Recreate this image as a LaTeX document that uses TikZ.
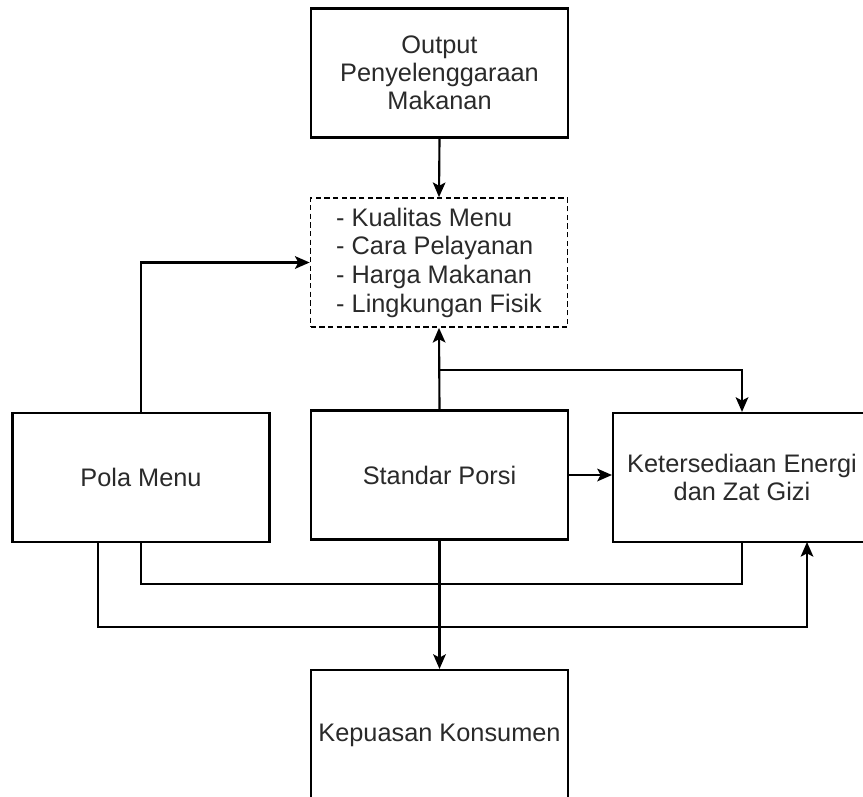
\documentclass[tikz,border=0pt]{standalone}
\usepackage{fontspec}
\setmainfont{Liberation Sans}
\usetikzlibrary{arrows.meta}
\definecolor{txt}{HTML}{2A2A2A}
\tikzset{
  box/.style={draw, line width=1.6pt, minimum width=257*0.75pt, minimum height=129*0.75pt, inner sep=0pt, align=center, text=txt, font=\fontsize{19}{21}\selectfont},
  dbox/.style={box, line width=1.3pt, dash pattern=on 4pt off 2.5pt},
  conn/.style={line width=1.6pt},
  arr/.style={conn, -{Stealth[length=11pt, width=9.5pt, inset=2.5pt]}}
}
\begin{document}
\begin{tikzpicture}[x=0.75pt, y=-0.75pt]
\clip (0,0) rectangle (863,796);
\fill[white] (0,0) rectangle (863,796);
\node[box]  (out)  at (439.5,73)   {Output\\Penyelenggaraan\\Makanan};
\node[dbox, align=left, font=\fontsize{19}{21.5}\selectfont] (dash) at (439,262.5) {- Kualitas Menu\\- Cara Pelayanan\\- Harga Makanan\\- Lingkungan Fisik};
\node[box]  (pola) at (141,477.5)  {Pola Menu};
\node[box]  (std)  at (439.5,475)  {Standar Porsi};
\node[box, minimum width=258*0.75pt]  (ket)  at (742,477.5)  {Ketersediaan Energi\\dan Zat Gizi};
\node[box, minimum height=130*0.75pt]  (kep)  at (439.5,735)  {Kepuasan Konsumen};
\coordinate (j1) at (439.5,370);
\coordinate (pb) at (98,542);
\coordinate (kb) at (807,542);
\coordinate (l1) at (141,584);
\coordinate (l2) at (98,627);
\draw[arr] (out.south) -- (dash.north);
\draw[arr] (pola.north) |- (dash.west);
\draw[arr] (std.north) -- (dash.south);
\draw[arr] (j1) -| (ket.north);
\draw[arr] (std.east) -- (std.east -| ket.west);
\draw[arr] (std.south) -- (kep.north);
\draw[conn] (pola.south) -- (l1) -| (ket.south);
\draw[arr] (pb) -- (l2) -| (kb);
\end{tikzpicture}
\end{document}
